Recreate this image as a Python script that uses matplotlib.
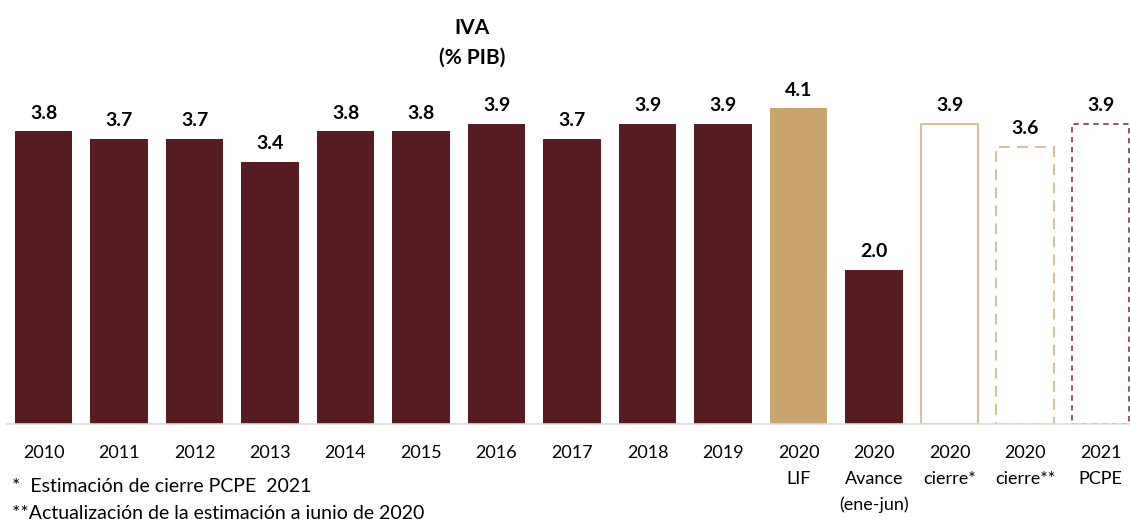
import matplotlib
matplotlib.use("Agg")
import matplotlib.pyplot as plt

categories = ["2010", "2011", "2012", "2013", "2014", "2015", "2016", "2017", "2018", "2019",
              "2020\nLIF", "2020\nAvance\n(ene-jun)", "2020\ncierre*", "2020\ncierre**", "2021\nPCPE"]
values = [3.8, 3.7, 3.7, 3.4, 3.8, 3.8, 3.9, 3.7, 3.9, 3.9, 4.1, 2.0, 3.9, 3.6, 3.9]

MAROON = "#561c22"
TAN = "#c9a46f"
TAN_EDGE = "#d9b98c"
MAROON_EDGE = "#8a4a54"

plt.rcParams["font.family"] = ["Lato", "DejaVu Sans"]

W, H = 1130, 519
fig = plt.figure(figsize=(W / 100, H / 100), dpi=100)
ax = fig.add_axes([5.75 / W, 95 / H, 1132.5 / W, 346.5 / H])

x = list(range(len(values)))
for i, v in enumerate(values):
    if i <= 9 or i == 11:
        ax.bar(i, v, width=0.755, color=MAROON)
    elif i == 10:
        ax.bar(i, v, width=0.755, color=TAN)
    elif i == 12:
        ax.bar(i, v, width=0.755, facecolor="white", edgecolor=TAN_EDGE, lw=1.3)
    elif i == 13:
        ax.bar(i, v, width=0.755, facecolor="white", edgecolor=TAN_EDGE, lw=1.3, ls=(0, (6, 4)))
    else:
        ax.bar(i, v, width=0.755, facecolor="white", edgecolor=MAROON_EDGE, lw=1.3, ls=(0, (3, 2.5)))
    ax.annotate(f"{v:.1f}", (i, v), xytext=(0, 7), textcoords="offset points",
                ha="center", va="bottom", fontsize=14, fontweight="bold")

ax.set_xlim(-0.5, 14.5)
ax.set_ylim(0, 4.5)
ax.set_xticks(x)
ax.set_xticklabels(categories, fontsize=13, linespacing=1.75, va="top")
ax.tick_params(axis="x", length=0, pad=15)
ax.set_yticks([])
for s in ["top", "right", "left"]:
    ax.spines[s].set_visible(False)
ax.spines["bottom"].set_color("#d9d9d9")
ax.spines["bottom"].set_linewidth(1.2)

fig.text(472 / W, 1 - 28 / H, "IVA", ha="center", va="center", fontsize=15, fontweight="bold")
fig.text(472 / W, 1 - 58 / H, "(% PIB)", ha="center", va="center", fontsize=15, fontweight="bold")
fig.text(12 / W, 1 - 486 / H, "*  Estimación de cierre PCPE  2021", ha="left", va="center", fontsize=14)
fig.text(12 / W, 1 - 514 / H, "**Actualización de la estimación a junio de 2020", ha="left", va="center", fontsize=14)

fig.savefig("out.png", dpi=100)
